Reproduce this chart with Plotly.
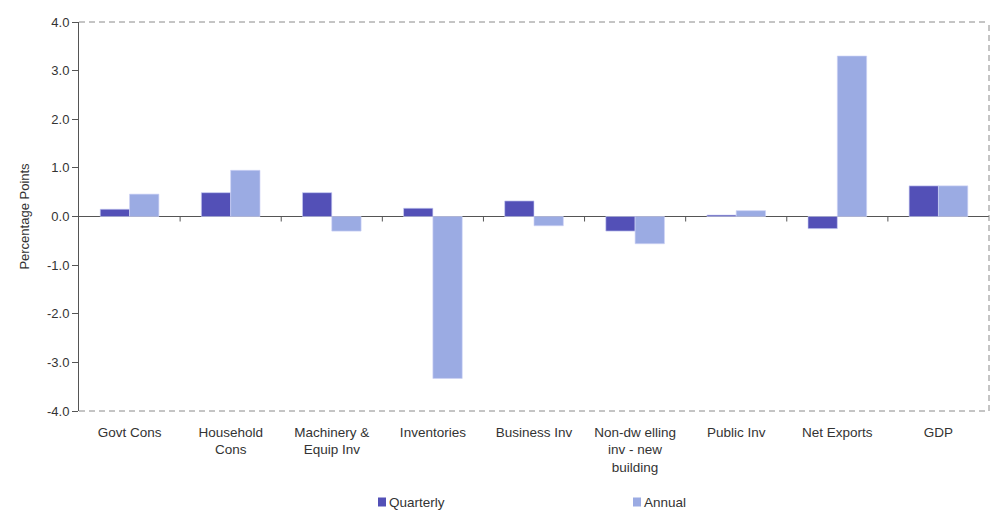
import plotly.graph_objects as go

# Contributions to GDP growth, percentage points
categories = [
    "Govt Cons",
    "Household<br>Cons",
    "Machinery &<br>Equip Inv",
    "Inventories",
    "Business Inv",
    "Non-dw elling<br>inv - new<br>building",
    "Public Inv",
    "Net Exports",
    "GDP",
]
quarterly = [0.15, 0.49, 0.49, 0.17, 0.32, -0.30, 0.03, -0.25, 0.63]
annual = [0.46, 0.95, -0.30, -3.33, -0.19, -0.56, 0.12, 3.30, 0.63]
y_ticks = [-4, -3, -2, -1, 0, 1, 2, 3, 4]
y_tick_labels = ["-4.0", "-3.0", "-2.0", "-1.0", "0.0", "1.0", "2.0", "3.0", "4.0"]

series_names = ["Quarterly", "Annual"]
series_colors = ["#5350B7", "#9BABE3"]

FONT = "Liberation Sans, Arial, sans-serif"
TEXT = "#333333"
AXIS = "#555555"

# plot-area geometry in pixels
W, H = 990, 511
L, R, T, B = 79, 1, 22, 100
PW, PH = W - L - R, H - T - B

fig = go.Figure()
for name, vals, col in zip(series_names, [quarterly, annual], series_colors):
    fig.add_trace(go.Bar(
        x=categories, y=vals, name=name,
        marker=dict(color=col, line=dict(color="rgba(205,210,245,0.8)", width=0.8)),
        showlegend=False,
    ))

shapes = []
# dashed frame: top, bottom and right edges
for (x0, y0, x1, y1) in [(0, 1, 1, 1), (0, 0, 1, 0), (1, 0, 1, 1)]:
    shapes.append(dict(type="line", xref="paper", yref="paper",
                       x0=x0, y0=y0, x1=x1, y1=y1,
                       line=dict(color="#8a8a8a", width=1, dash="6px,4px")))
# short tick marks at category boundaries, hanging below the zero line
for i in range(1, len(categories)):
    shapes.append(dict(type="line", xref="x", yref="y",
                       x0=i - 0.5, x1=i - 0.5,
                       ysizemode="pixel", yanchor=0, y0=0, y1=-5,
                       line=dict(color=AXIS, width=1)))

# legend swatches and labels
legend_pos = [382, 637]
annotations = []
for name, col, px in zip(series_names, series_colors, legend_pos):
    shapes.append(dict(type="rect", xref="paper", yref="paper",
                       xsizemode="pixel", ysizemode="pixel",
                       xanchor=(px - L) / PW, yanchor=(T + PH - 502) / PH,
                       x0=-4, x1=4, y0=-4.5, y1=4.5,
                       fillcolor=col, line=dict(width=0)))
    annotations.append(dict(xref="paper", yref="paper",
                            x=(px + 4.5 - L) / PW, y=(T + PH - 502) / PH,
                            xanchor="left", yanchor="middle", showarrow=False,
                            text=name, font=dict(family=FONT, size=13.5, color=TEXT)))

fig.update_layout(
    width=W, height=H,
    margin=dict(l=L, r=R, t=T, b=B, pad=0),
    paper_bgcolor="white", plot_bgcolor="white",
    barmode="group", bargap=0.42, bargroupgap=0,
    font=dict(family=FONT, size=12.5, color=TEXT),
    shapes=shapes, annotations=annotations,
    xaxis=dict(
        type="category", showgrid=False, zeroline=False, showline=False,
        ticks="", tickfont=dict(family=FONT, size=13.5, color=TEXT),
        ticklabelstandoff=11,
    ),
    yaxis=dict(
        range=[-4, 4], tickvals=y_ticks, ticktext=y_tick_labels,
        showgrid=False, showline=True, linecolor=AXIS, linewidth=1,
        ticks="outside", ticklen=6, tickcolor=AXIS,
        zeroline=True, zerolinecolor=AXIS, zerolinewidth=1,
        tickfont=dict(family=FONT, size=13, color=TEXT),
        title=dict(text="Percentage Points", standoff=14,
                   font=dict(family=FONT, size=13, color=TEXT)),
    ),
)

fig.write_html("out.html")
